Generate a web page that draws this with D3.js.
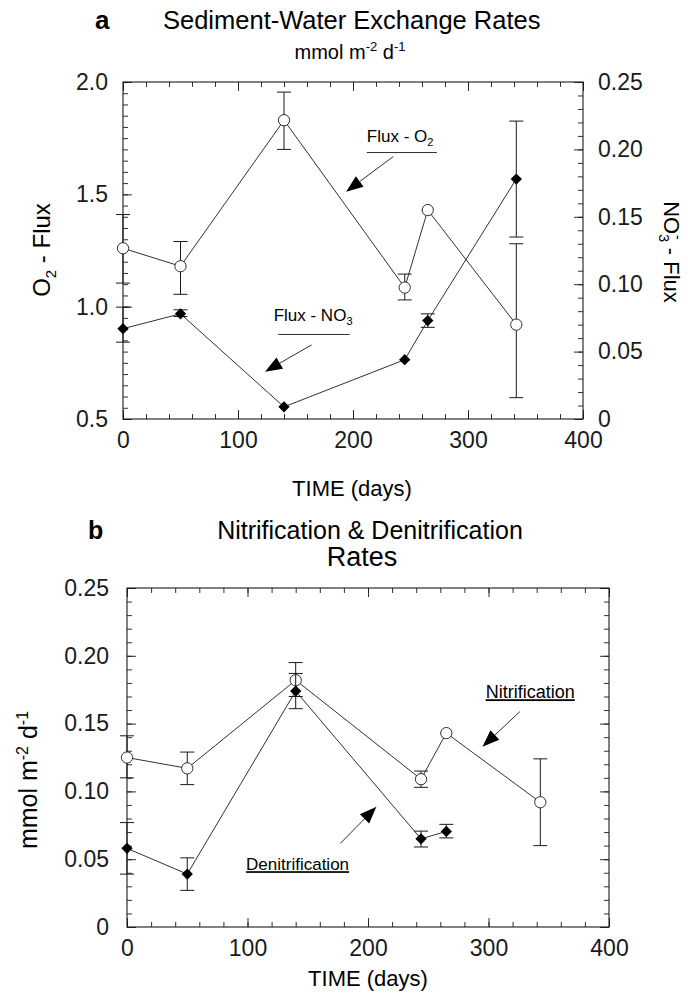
<!DOCTYPE html>
<html>
<head>
<meta charset="utf-8">
<script src="https://cdn.jsdelivr.net/npm/d3@7"></script>
<style>
body { margin: 0; background: #fff; }
svg { font-family: "Liberation Sans", Arial, sans-serif; }
</style>
</head>
<body>
<svg id="chart" width="688" height="998"></svg>
<script>
'use strict';
// panel a - sediment-water exchange
var daysA = [0, 50, 140, 245, 265, 342];
var o2Flux = [1.26, 1.18, 1.83, 1.085, 1.43, 0.92];
var o2Low = [1.105, 1.055, 1.70, 1.03, null, 0.595];
var o2High = [1.41, 1.29, 1.955, 1.145, null, 1.28];
var no3Flux = [0.067, 0.078, 0.009, 0.044, 0.073, 0.178];
var no3Low = [0.057, 0.076, null, null, 0.068, 0.135];
var no3High = [0.083, 0.081, null, null, 0.078, 0.221];

// panel b - nitrification & denitrification
var daysNit = [0, 50, 140, 244, 265, 343];
var nitRate = [0.125, 0.117, 0.182, 0.109, 0.143, 0.092];
var nitLow = [0.110, 0.105, 0.170, 0.103, null, 0.060];
var nitHigh = [0.141, 0.129, 0.195, 0.115, null, 0.124];
var daysDen = [0, 50, 140, 244, 265];
var denRate = [0.058, 0.039, 0.174, 0.065, 0.0705];
var denLow = [0.039, 0.027, 0.161, 0.059, 0.0657];
var denHigh = [0.077, 0.051, 0.187, 0.0707, 0.0757];

// tick labels
var timeTicks = [0, 100, 200, 300, 400];
var o2Ticks = [0.5, 1.0, 1.5, 2.0];
var rateTicks = [0, 0.05, 0.10, 0.15, 0.20, 0.25];

var svg = d3.select('#chart');
var ink = '#1a1a1a';

function fmtRate(v){ return v === 0 ? '0' : d3.format('.2f')(v); }

function axisPair(g, axisFn, scale, majors, minorCount, fmt, showLabels, pad){
    g.append('g').call(axisFn(scale).ticks(minorCount).tickSize(-5).tickFormat(''));
    var a = axisFn(scale).tickValues(majors).tickSize(-9).tickPadding(pad)
        .tickFormat(showLabels ? fmt : '');
    g.append('g').call(a);
    g.selectAll('.domain').remove();
    g.selectAll('line').attr('stroke', ink).attr('stroke-width', 0.9);
    g.selectAll('text').attr('font-size', 23).attr('fill', ink)
        .attr('font-family', '"Liberation Sans", Arial, sans-serif');
}

function frame(x, y){
    svg.append('rect')
        .attr('x', x.range()[0]).attr('y', y.range()[1])
        .attr('width', x.range()[1] - x.range()[0])
        .attr('height', y.range()[0] - y.range()[1])
        .attr('fill', 'none').attr('stroke', ink).attr('stroke-width', 1.1);
}

function series(x, y, days, vals, low, high, shape){
    var pts = days.map(function(d, i){ return {t: d, v: vals[i], lo: low[i], hi: high[i]}; });
    svg.append('path').datum(pts)
        .attr('d', d3.line().x(function(d){ return x(d.t); }).y(function(d){ return y(d.v); }))
        .attr('fill', 'none').attr('stroke', ink).attr('stroke-width', 0.9);
    var eb = svg.append('g').selectAll('g')
        .data(pts.filter(function(d){ return d.lo !== null; }))
        .enter().append('g').attr('stroke', ink).attr('stroke-width', 1);
    eb.append('line').attr('x1', function(d){ return x(d.t); }).attr('x2', function(d){ return x(d.t); })
        .attr('y1', function(d){ return y(d.lo); }).attr('y2', function(d){ return y(d.hi); });
    eb.append('line').attr('x1', function(d){ return x(d.t) - 7; }).attr('x2', function(d){ return x(d.t) + 7; })
        .attr('y1', function(d){ return y(d.lo); }).attr('y2', function(d){ return y(d.lo); });
    eb.append('line').attr('x1', function(d){ return x(d.t) - 7; }).attr('x2', function(d){ return x(d.t) + 7; })
        .attr('y1', function(d){ return y(d.hi); }).attr('y2', function(d){ return y(d.hi); });
    var m = svg.append('g').selectAll('path').data(pts).enter().append('path')
        .attr('transform', function(d){
            return 'translate(' + x(d.t) + ',' + y(d.v) + ')' + (shape === 'diamond' ? ' rotate(45)' : '');
        });
    if (shape === 'diamond'){
        m.attr('d', d3.symbol().type(d3.symbolSquare).size(64)).attr('fill', '#000');
    } else {
        m.attr('d', d3.symbol().type(d3.symbolCircle).size(100))
            .attr('fill', '#fff').attr('stroke', ink).attr('stroke-width', 0.9);
    }
}

function arrow(x, y, from, to){
    var x0 = x(from[0]), y0 = y(from[1]), x1 = x(to[0]), y1 = y(to[1]);
    var ang = Math.atan2(y1 - y0, x1 - x0), len = 17, hw = 6.5;
    var bx = x1 - len * Math.cos(ang), by = y1 - len * Math.sin(ang);
    svg.append('line').attr('x1', x0).attr('y1', y0).attr('x2', bx).attr('y2', by)
        .attr('stroke', ink).attr('stroke-width', 0.9);
    svg.append('path')
        .attr('d', 'M' + x1 + ',' + y1 +
            'L' + (bx + hw * Math.sin(ang)) + ',' + (by - hw * Math.cos(ang)) +
            'L' + (bx - hw * Math.sin(ang)) + ',' + (by + hw * Math.cos(ang)) + 'Z')
        .attr('fill', '#000');
}

// ---------- panel a ----------
var xA = d3.scaleLinear().domain([0, 400]).range([123, 583]);
var yO2 = d3.scaleLinear().domain([0.5, 2.0]).range([419, 82]);
var yNO3 = d3.scaleLinear().domain([0, 0.25]).range([419, 82]);

axisPair(svg.append('g').attr('transform', 'translate(0,419)'), d3.axisBottom, xA, timeTicks, 20, d3.format('d'), true, 13);
axisPair(svg.append('g').attr('transform', 'translate(0,82)'), d3.axisTop, xA, timeTicks, 20, d3.format('d'), false, 0);
axisPair(svg.append('g').attr('transform', 'translate(123,0)'), d3.axisLeft, yO2, o2Ticks, 30, d3.format('.1f'), true, 15);
axisPair(svg.append('g').attr('transform', 'translate(583,0)'), d3.axisRight, yNO3, rateTicks, 25, fmtRate, true, 15);
frame(xA, yO2);

series(xA, yO2, daysA, o2Flux, o2Low, o2High, 'circle');
series(xA, yNO3, daysA, no3Flux, no3Low, no3High, 'diamond');

svg.append('text').attr('x', 95).attr('y', 29).attr('font-size', 26).attr('font-weight', 'bold').text('a');
svg.append('text').attr('x', 163).attr('y', 29).attr('font-size', 25.5).text('Sediment-Water Exchange Rates');
var mm = svg.append('text').attr('x', 350).attr('y', 59).attr('font-size', 20).attr('text-anchor', 'middle');
mm.append('tspan').text('mmol m');
mm.append('tspan').attr('font-size', 13).attr('dy', -8).text('-2');
mm.append('tspan').attr('dy', 8).text(' d');
mm.append('tspan').attr('font-size', 13).attr('dy', -8).text('-1');

var o2t = svg.append('text').attr('transform', 'translate(50,250) rotate(-90)')
    .attr('text-anchor', 'middle').attr('font-size', 24);
o2t.append('tspan').text('O');
o2t.append('tspan').attr('font-size', 15).attr('dy', 6).text('2');
o2t.append('tspan').attr('dy', -6).text(' - Flux');

var nt = svg.append('text').attr('transform', 'translate(664,252) rotate(90)')
    .attr('text-anchor', 'middle').attr('font-size', 22);
nt.append('tspan').text('NO');
nt.append('tspan').attr('font-size', 14).attr('dy', 5).text('3');
nt.append('tspan').attr('font-size', 14).attr('dx', -7).attr('dy', -14).text('-');
nt.append('tspan').attr('dx', 2).attr('dy', 9).text(' - Flux');

svg.append('text').attr('x', 352).attr('y', 496).attr('font-size', 22).attr('text-anchor', 'middle').text('TIME (days)');

// annotations a
var lo2 = svg.append('text').attr('x', xA(212)).attr('y', yO2(1.735)).attr('font-size', 17);
lo2.append('tspan').text('Flux - O');
lo2.append('tspan').attr('font-size', 11).attr('dy', 4).text('2');
svg.append('line').attr('x1', xA(212)).attr('x2', xA(273)).attr('y1', yO2(1.686)).attr('y2', yO2(1.686))
    .attr('stroke', ink).attr('stroke-width', 0.9);
arrow(xA, yO2, [235, 1.668], [194, 1.512]);

var ln3 = svg.append('text').attr('x', xA(131)).attr('y', yNO3(0.0724)).attr('font-size', 17);
ln3.append('tspan').text('Flux - NO');
ln3.append('tspan').attr('font-size', 11).attr('dy', 4).text('3');
svg.append('line').attr('x1', xA(135)).attr('x2', xA(197)).attr('y1', yNO3(0.0627)).attr('y2', yNO3(0.0627))
    .attr('stroke', ink).attr('stroke-width', 0.9);
arrow(xA, yNO3, [164, 0.055], [123.5, 0.0351]);

// ---------- panel b ----------
var xB = d3.scaleLinear().domain([0, 400]).range([127, 609]);
var yR = d3.scaleLinear().domain([0, 0.25]).range([927, 588]);

axisPair(svg.append('g').attr('transform', 'translate(0,927)'), d3.axisBottom, xB, timeTicks, 20, d3.format('d'), true, 13);
axisPair(svg.append('g').attr('transform', 'translate(0,588)'), d3.axisTop, xB, timeTicks, 20, d3.format('d'), false, 0);
axisPair(svg.append('g').attr('transform', 'translate(127,0)'), d3.axisLeft, yR, rateTicks, 25, fmtRate, true, 18);
axisPair(svg.append('g').attr('transform', 'translate(609,0)'), d3.axisRight, yR, rateTicks, 25, fmtRate, false, 0);
frame(xB, yR);

series(xB, yR, daysNit, nitRate, nitLow, nitHigh, 'circle');
series(xB, yR, daysDen, denRate, denLow, denHigh, 'diamond');

svg.append('text').attr('x', 88).attr('y', 539).attr('font-size', 25).attr('font-weight', 'bold').text('b');
svg.append('text').attr('x', 370).attr('y', 539).attr('font-size', 25).attr('text-anchor', 'middle')
    .text('Nitrification & Denitrification');
svg.append('text').attr('x', 362).attr('y', 566).attr('font-size', 27).attr('text-anchor', 'middle').text('Rates');

var rt = svg.append('text').attr('transform', 'translate(37,780) rotate(-90)')
    .attr('text-anchor', 'middle').attr('font-size', 25);
rt.append('tspan').text('mmol m');
rt.append('tspan').attr('font-size', 16).attr('dy', -9).text('-2');
rt.append('tspan').attr('dy', 9).text(' d');
rt.append('tspan').attr('font-size', 16).attr('dy', -9).text('-1');

svg.append('text').attr('x', 368).attr('y', 986).attr('font-size', 22).attr('text-anchor', 'middle').text('TIME (days)');

// annotations b
svg.append('text').attr('x', xB(297.7)).attr('y', yR(0.1687)).attr('font-size', 18)
    .attr('text-decoration', 'underline').text('Nitrification');
arrow(xB, yR, [326, 0.1588], [295, 0.133]);
svg.append('text').attr('x', xB(98.8)).attr('y', yR(0.0419)).attr('font-size', 17)
    .attr('text-decoration', 'underline').text('Denitrification');
arrow(xB, yR, [177, 0.0616], [207, 0.0887]);
</script>
</body>
</html>
